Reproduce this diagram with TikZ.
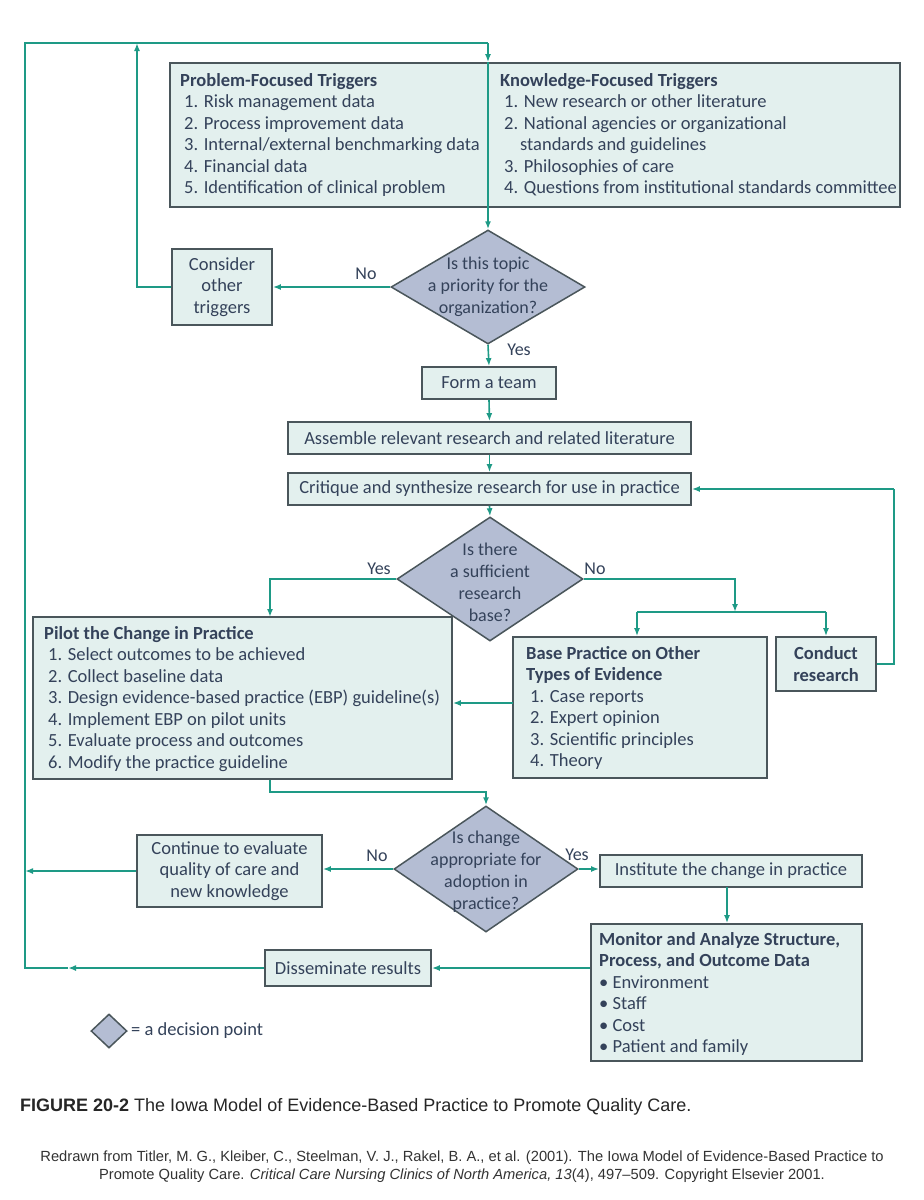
\documentclass[tikz,border=0pt]{standalone}
\usepackage{fontspec}
\setmainfont{Carlito}
\newfontfamily\capfont{Liberation Sans}
\usetikzlibrary{shapes.geometric,arrows.meta}
\definecolor{ln}{HTML}{1E9A86}
\definecolor{bxfill}{HTML}{E3F0EE}
\definecolor{bxline}{HTML}{4A565B}
\definecolor{dfill}{HTML}{B4BDD3}
\definecolor{tx}{HTML}{34425A}
\begin{document}
\begin{tikzpicture}[x=1pt,y=-1pt,
 box/.style={draw=bxline, fill=bxfill, line width=1.8pt, inner sep=0pt, text=tx, align=center, font=\fontsize{18.5}{21.5}\selectfont},
 dec/.style={diamond, draw=bxline, fill=dfill, line width=1.5pt, inner sep=0pt},
 txt/.style={text=tx, font=\fontsize{18.5}{21.5}\selectfont, inner sep=0pt, align=left},
 ctxt/.style={text=tx, font=\fontsize{18}{22}\selectfont, inner sep=0pt, align=center},
 lbl/.style={text=tx, font=\fontsize{18}{20}\selectfont, inner sep=0pt},
 conn/.style={draw=ln, line width=1.6pt},
 arr/.style={conn, -{Latex[length=8pt,width=6pt]}},
]
\useasboundingbox (0,0) rectangle (924,1200);
\fill[white] (0,0) rectangle (924,1200);

% coordinates of the loops
\coordinate (tl) at (25,43);
\coordinate (tr) at (488,43);
\coordinate (cl) at (137,43);
\coordinate (lb) at (25,968);
\coordinate (lm) at (68,968);

% top triggers box
\node[box, minimum width=730, minimum height=144] (trig) at (535,135) {};
\node[txt, anchor=north west] (ptxt) at (180,73) {\textbf{Problem-Focused Triggers}\\
\hspace*{4pt}1. Risk management data\\
\hspace*{4pt}2. Process improvement data\\
\hspace*{4pt}3. Internal/external benchmarking data\\
\hspace*{4pt}4. Financial data\\
\hspace*{4pt}5. Identification of clinical problem};
\node[txt, anchor=north west] (ktxt) at (500,73) {\textbf{Knowledge-Focused Triggers}\\
\hspace*{4pt}1. New research or other literature\\
\hspace*{4pt}2. National agencies or organizational\\
\hspace*{20pt}standards and guidelines\\
\hspace*{4pt}3. Philosophies of care\\
\hspace*{4pt}4. Questions from institutional standards committee};

% decision 1
\node[dec, minimum width=194, minimum height=114] (d1) at (488,287) {};
\node[ctxt] (d1t) at (488,287) {Is this topic\\a priority for the\\organization?};
\node[box, minimum width=100, minimum height=76] (cons) at (222,287) {Consider\\other\\triggers};
\node[lbl] (no1) at (366,274) {No};
\node[lbl] (yes1) at (519,350) {Yes};

\node[box, minimum width=134, minimum height=32] (team) at (489,383) {Form a team};
\node[box, minimum width=403, minimum height=32] (asm) at (489.5,438) {Assemble relevant research and related literature};
\node[box, minimum width=403, minimum height=32] (crit) at (489.5,489) {Critique and synthesize research for use in practice};

% decision 2
\node[dec, minimum width=186, minimum height=124] (d2) at (490,579) {};
\node[ctxt] (d2t) at (490,582) {Is there\\a sufficient\\research\\base?};
\node[lbl] (yes2) at (379,569) {Yes};
\node[lbl] (no2) at (595,569) {No};

\node[box, minimum width=419, minimum height=162] (pilot) at (242.5,698) {};
\node[txt, anchor=north west] (pilt) at (44,626) {\textbf{Pilot the Change in Practice}\\
\hspace*{4pt}1. Select outcomes to be achieved\\
\hspace*{4pt}2. Collect baseline data\\
\hspace*{4pt}3. Design evidence-based practice (EBP) guideline(s)\\
\hspace*{4pt}4. Implement EBP on pilot units\\
\hspace*{4pt}5. Evaluate process and outcomes\\
\hspace*{4pt}6. Modify the practice guideline};

\node[box, minimum width=254, minimum height=141] (base) at (640,707.5) {};
\node[txt, anchor=north west] (baset) at (526,646) {\textbf{Base Practice on Other}\\
\textbf{Types of Evidence}\\
\hspace*{4pt}1. Case reports\\
\hspace*{4pt}2. Expert opinion\\
\hspace*{4pt}3. Scientific principles\\
\hspace*{4pt}4. Theory};

\node[box, minimum width=100, minimum height=54, font=\bfseries\fontsize{18.5}{21.5}\selectfont] (cond) at (826,664) {Conduct\\research};

% decision 3
\node[dec, minimum width=184, minimum height=126] (d3) at (486,869) {};
\node[ctxt] (d3t) at (486,872) {Is change\\appropriate for\\adoption in\\practice?};
\node[lbl] (no3) at (377,856) {No};
\node[lbl] (yes3) at (577,855) {Yes};

\node[box, minimum width=185, minimum height=72] (cont) at (229.5,871) {Continue to evaluate\\quality of care and\\new knowledge};
\node[box, minimum width=262, minimum height=32] (inst) at (731,871) {Institute the change in practice};
\node[box, minimum width=271, minimum height=137] (mon) at (726.5,992.5) {};
\node[txt, anchor=north west] (mont) at (599,932) {\textbf{Monitor and Analyze Structure,}\\
\textbf{Process, and Outcome Data}\\
\textbullet\ Environment\\
\textbullet\ Staff\\
\textbullet\ Cost\\
\textbullet\ Patient and family};
\node[box, minimum width=166, minimum height=36] (diss) at (348,968) {Disseminate results};

% legend
\node[dec, minimum width=36, minimum height=34] (leg) at (109,1031) {};
\node[lbl, anchor=west, font=\fontsize{18.5}{20}\selectfont] (legt) at (131,1031) {= a decision point};

% caption
\node[anchor=west, inner sep=0pt, text=black!85, font=\capfont\fontsize{18}{20}\selectfont] (cap) at (20,1107) {\textbf{FIGURE 20-2} The Iowa Model of Evidence-Based Practice to Promote Quality Care.};
\node[inner sep=0pt, align=center, text=black!80, font=\capfont\fontsize{14.7}{18}\selectfont] (cred) at (462,1167) {Redrawn from Titler, M. G., Kleiber, C., Steelman, V. J., Rakel, B. A., et al. (2001). The Iowa Model of Evidence-Based Practice to\\
Promote Quality Care. \textit{Critical Care Nursing Clinics of North America, 13}(4), 497–509. Copyright Elsevier 2001.};

% connectors
\draw[arr] (tr) -- (tr |- trig.north);
\draw[conn] (tr |- trig.north) -- (tr |- trig.south);
\draw[arr] (tr |- trig.south) -- (d1.north);
\draw[arr] (d1.west) -- (d1.west -| cons.east);
\draw[arr] (cons.west) -| (cl);
\draw[arr] (d1.south) -- (team.north);
\draw[arr] (team.south) -- (asm.north);
\draw[arr] (asm.south) -- (crit.north);
\draw[arr] (crit.south) -- (d2.north);
\coordinate (pl) at (270,617);
\draw[arr] (d2.west) -| (pl);
\coordinate (br) at (735,612);
\coordinate (bl) at (637,612);
\coordinate (bc) at (826,612);
\draw[arr] (d2.east) -| (br);
\draw[conn] (bl) -- (bc);
\draw[arr] (bl) -- (bl |- base.north);
\draw[arr] (bc) -- (cond.north);
\coordinate (cr) at (894,489);
\draw[conn] (cond.east) -| (cr);
\draw[arr] (cr) -- (crit.east);
\coordinate (bp) at (513,703);
\draw[arr] (bp) -- (bp -| pilot.east);
\draw[arr] (pl |- pilot.south) -- ++(0,12) -| (d3.north);
\draw[arr] (d3.west) -- (d3.west -| cont.east);
\draw[arr] (cont.west) -- (cont.west -| lb);
\draw[arr] (d3.east) -- (d3.east -| inst.west);
\coordinate (im) at (727,887);
\draw[arr] (im) -- (im |- mon.north);
\draw[arr] (diss.east -| mon.west) -- (diss.east);
\draw[arr] (diss.west) -- (lm);
\draw[conn] (lm) -- (lb) -- (tl) -- (tr);
\end{tikzpicture}
\end{document}
